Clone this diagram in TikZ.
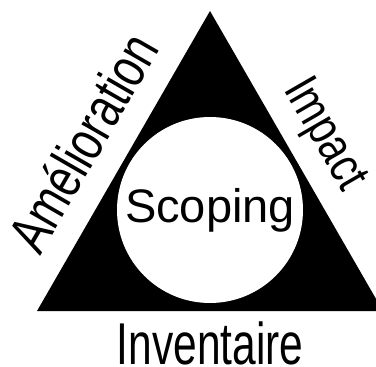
\documentclass[tikz,border=0pt]{standalone}
\usepackage{fontspec}
\setmainfont{Liberation Sans}
\usepackage{graphicx}

\tikzset{
  side/.style={inner sep=0pt, anchor=base west},
  shrink/.style={font=\fontsize{#1}{#1}\selectfont}
}
\newcommand{\narrow}[2][0.74]{\scalebox{#1}[1]{#2}}

\begin{document}
\begin{tikzpicture}[x=1pt, y=-1pt]
    % Define the size of the picture
    \useasboundingbox (0,0) rectangle (376,367);
    \clip (0,0) rectangle (376,367);

    % Corners of the triangle
    \coordinate (top) at (210,11);
    \coordinate (left) at (37,311);
    \coordinate (right) at (383,311);

    % Black triangle
    \fill[black] (top) -- (left) -- (right) -- cycle;

    % White circle with the text inside
    \node[circle, fill=white, minimum size=186pt, inner sep=0pt, shrink=47] (scoping) at (210,210) {Scoping};

    % Text along the sides
    \node[side, rotate=60, shrink=57] (amelioration) at (40,257) {\narrow[0.76]{Amélioration}};
    \node[side, rotate=-60, shrink=50] (impact) at (283,89) {\narrow[0.8]{Impact}};

    % Text under the triangle
    \node[inner sep=0pt, anchor=base, shrink=59] (inventaire) at (210,364) {\narrow[0.72]{Inventaire}};
\end{tikzpicture}
\end{document}
